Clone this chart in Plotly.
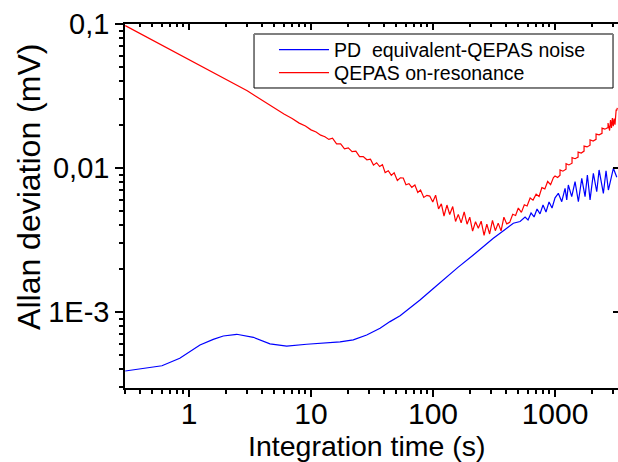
import plotly.graph_objects as go

# ---------------- data ----------------
red_x = [0.3, 0.4, 0.5, 0.6, 0.8, 1.0, 1.3, 1.6, 2.0, 2.5, 3.0, 3.5, 4.0, 5.0, 6.0, 7.0, 8.0, 9.0, 10, 11, 12, 13, 14,
         15, 16.2, 17.5, 18.8, 20.2, 21.7, 23.3, 25, 26.8, 28.7, 30.7,
         32.5, 34.5, 36.5, 38.5, 40.5, 43, 45.5, 48, 51, 54, 57, 60, 63.5, 67, 71, 75, 79, 84, 89, 94, 99.5,
         105, 111, 117, 123, 130, 137, 145, 153, 161, 170, 180, 190, 200, 211, 223, 235, 248, 262, 276, 291,
         307, 324, 342, 361, 381, 402,
         425, 450, 475, 500, 530, 560, 590, 625, 660, 700, 740, 780, 825, 870, 920, 970,
         1000, 1050, 1099, 1099, 1160, 1231, 1231, 1300, 1378, 1378, 1460, 1545, 1545, 1640, 1729, 1729,
         1830, 1936, 1936, 2050, 2168, 2168, 2300, 2427, 2427, 2560, 2718, 2718, 2800, 2850, 2900, 2950,
         3000, 3050, 3100, 3150, 3170, 3200, 3240]
red_y = [0.0975, 0.0857, 0.0768, 0.0708, 0.0625, 0.0564, 0.0500, 0.0455, 0.0412, 0.0373, 0.0344, 0.0316,
         0.0294, 0.0260, 0.0237, 0.0221, 0.0205, 0.0196, 0.0184, 0.0178, 0.0169, 0.0165, 0.0158,
         0.0161, 0.0147, 0.0147, 0.0136, 0.0138, 0.0130, 0.0131, 0.0120, 0.0120, 0.0114, 0.0115,
         0.01047, 0.01088, 0.01024, 0.01055, 0.00929, 0.00957, 0.00889, 0.00927, 0.0082, 0.00855, 0.00852,
         0.00765, 0.00778, 0.00734, 0.00761, 0.00675, 0.00702, 0.00625, 0.00646, 0.00638, 0.00581,
         0.00647, 0.0052, 0.00563, 0.00464, 0.00553, 0.00475, 0.0054, 0.00425, 0.00476, 0.00416, 0.00496,
         0.00407, 0.00455, 0.00364, 0.00423, 0.00381, 0.00427, 0.00341, 0.00408, 0.00348,
         0.00432, 0.00367, 0.00414, 0.00366, 0.00455, 0.00409,
         0.00419, 0.00477, 0.00468, 0.00527, 0.00492, 0.00556, 0.00545, 0.00619, 0.00598, 0.00658, 0.00635,
         0.00731, 0.00716, 0.00806, 0.00766, 0.00858,
         0.0088, 0.0086, 0.0089, 0.0097, 0.0095, 0.0098, 0.0107, 0.0105, 0.0108, 0.0118, 0.0116, 0.0119,
         0.0129, 0.0127, 0.0131, 0.0142, 0.0140, 0.0144, 0.0157, 0.0154, 0.0158, 0.0172, 0.0170, 0.0174,
         0.0189, 0.0186, 0.0191, 0.0205, 0.0182, 0.0215, 0.0190, 0.0222, 0.0195, 0.0220, 0.0200, 0.0225,
         0.0255, 0.0250, 0.0262]

blue_x = [0.3, 0.6, 0.84, 1.23, 1.58, 1.91, 2.46, 3.37, 4.61, 6.32, 9.22, 13.4, 17.3, 22.2, 28.6, 36.8,
          44.4, 53.7, 78.2, 100, 129.5, 160, 214, 260, 312, 380, 455, 517, 568, 601, 636, 673, 712, 753,
          797, 843, 893, 945, 1000, 1064, 1135, 1208, 1247, 1285, 1370, 1459, 1553, 1656, 1762, 1841,
          1936, 2061, 2197, 2296, 2489, 2618, 2736, 3006, 3206]
blue_y = [0.000389, 0.000423, 0.000477, 0.00059, 0.000645, 0.000681, 0.0007, 0.000667, 0.0006, 0.00058,
          0.000597, 0.000607, 0.00062, 0.00064, 0.000692, 0.000771, 0.000857, 0.00094, 0.00121, 0.00145,
          0.00176, 0.00204, 0.00249, 0.00286, 0.00325, 0.00368, 0.00413, 0.00425, 0.00457, 0.00435,
          0.00487, 0.00457, 0.00519, 0.0048, 0.00553, 0.00495, 0.00581, 0.00527, 0.0062, 0.00667,
          0.00583, 0.00723, 0.006, 0.00762, 0.00632, 0.00804, 0.00583, 0.00848, 0.00632, 0.00894, 0.006,
          0.00918, 0.00684, 0.00969, 0.00667, 0.00957, 0.00703, 0.00995, 0.00862]

series_names = ["PD\u00a0 equivalent-QEPAS noise", "QEPAS on-resonance"]
y_tick_vals = [0.1, 0.01, 0.001]
y_tick_text = ["0,1", "0,01", "1E-3"]
x_title = "Integration time (s)"
y_title = "Allan deviation (mV)"

# ---------------- figure ----------------
FONT = "Liberation Sans, Arial, sans-serif"
XR = [-0.5246, 3.516]
YR = [-3.528, -1.0]

fig = go.Figure()
fig.add_trace(go.Scatter(x=blue_x, y=blue_y, mode="lines", name=series_names[0],
                         line=dict(color="#0000FF", width=1.2), legend="legend"))
fig.add_trace(go.Scatter(x=red_x, y=red_y, mode="lines", name=series_names[1],
                         line=dict(color="#FF0000", width=1.2), xaxis="x2", yaxis="y2",
                         legend="legend2"))

axis_common = dict(type="log", showgrid=False, zeroline=False, linecolor="black", tickcolor="black")
leg_common = dict(xanchor="left", yanchor="middle", borderwidth=0, bgcolor="rgba(0,0,0,0)",
                  font=dict(size=19.5, family=FONT), itemwidth=50)

fig.update_layout(
    width=618, height=462,
    margin=dict(l=125, r=0, t=24, b=74),
    paper_bgcolor="white", plot_bgcolor="white",
    font=dict(family=FONT, color="black"),
    showlegend=True,
    legend=dict(**leg_common, x=0.3022, y=0.9286),
    legend2=dict(**leg_common, x=0.3022, y=0.8654),
    xaxis=dict(**axis_common, range=XR, dtick=1, exponentformat="none",
               ticks="outside", ticklen=7, tickwidth=1.5, ticklabelstandoff=-9,
               showline=True, linewidth=1.5, tickfont=dict(size=30),
               minor=dict(ticks="outside", ticklen=4, tickwidth=1.5, dtick="D1",
                          tickcolor="black", showgrid=False)),
    yaxis=dict(**axis_common, range=YR, tickmode="array", tickvals=y_tick_vals, ticktext=y_tick_text,
               ticks="outside", ticklen=8, tickwidth=1.5,
               showline=True, linewidth=1.5, tickfont=dict(size=29),
               minor=dict(ticks="outside", ticklen=4, tickwidth=1.5, dtick="D1",
                          tickcolor="black", showgrid=False)),
    xaxis2=dict(**axis_common, range=XR, overlaying="x", side="top", dtick=1,
                ticks="inside", ticklen=6, tickwidth=1.5, showticklabels=False,
                showline=True, linewidth=1.5,
                minor=dict(ticks="inside", ticklen=3, tickwidth=1.5, dtick="D1",
                           tickcolor="black", showgrid=False)),
    yaxis2=dict(**axis_common, range=YR, overlaying="y", side="right",
                tickmode="array", tickvals=y_tick_vals,
                ticks="inside", ticklen=5, tickwidth=1.5, showticklabels=False,
                showline=False),
    shapes=[
        dict(type="rect", xref="paper", yref="paper", x0=0.2617, x1=0.9899, y0=0.8242, y1=0.9725,
             line=dict(color="black", width=1), fillcolor="rgba(0,0,0,0)", layer="above"),
        dict(type="line", xref="paper", yref="paper", x0=0.2617, x1=0.9899, y0=0.9725, y1=0.9725,
             line=dict(color="#7f7f7f", width=2), layer="above"),
    ],
    annotations=[
        dict(text=x_title, xref="paper", yref="paper", x=0.49, y=-0.16,
             xanchor="center", yanchor="middle", showarrow=False, font=dict(size=28.5, family=FONT)),
        dict(text=y_title, xref="paper", yref="paper", x=-0.195, y=0.552, textangle=-90,
             xanchor="center", yanchor="middle", showarrow=False, font=dict(size=32, family=FONT)),
    ],
)

fig.write_html("out.html")
